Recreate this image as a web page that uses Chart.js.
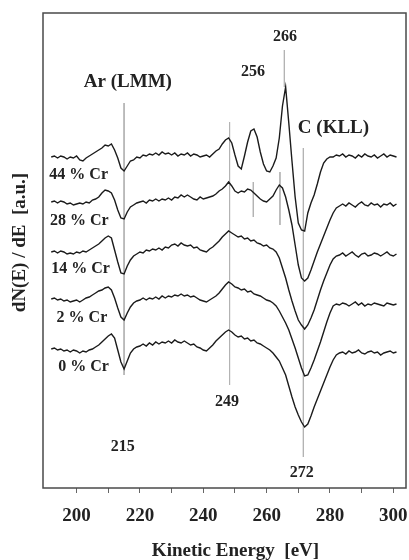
<!DOCTYPE html>
<html>
<head>
<meta charset="utf-8">
<script src="https://cdn.jsdelivr.net/npm/chart.js"></script>
<style>
  html, body { margin: 0; padding: 0; background: #fff; }
  #chart { display: block; }
</style>
</head>
<body>
<canvas id="chart" width="409" height="560"></canvas>
<script>
// Auger spectra dN(E)/dE (a.u., relative to each baseline)
const energy = [
  192, 193, 194, 195, 196, 197, 198, 199, 200, 201,
  202, 203, 204, 205, 206, 207, 208, 209, 210, 211,
  212, 213, 214, 215, 216, 217, 218, 219, 220, 221,
  222, 223, 224, 225, 226, 227, 228, 229, 230, 231,
  232, 233, 234, 235, 236, 237, 238, 239, 240, 241,
  242, 243, 244, 245, 246, 247, 248, 249, 250, 251,
  252, 253, 254, 255, 256, 257, 258, 259, 260, 261,
  262, 263, 264, 265, 266, 267, 268, 269, 270, 271,
  272, 273, 274, 275, 276, 277, 278, 279, 280, 281,
  282, 283, 284, 285, 286, 287, 288, 289, 290, 291,
  292, 293, 294, 295, 296, 297, 298, 299, 300, 301
];

const cr44 = [
  0, 1, -1, 1, 0, -2, 0, -1, 1, -3,
  -4, -1, 1, 3, 5, 7, 9, 12, 11, 13,
  7, -1, -11, -14, -9, -4, -3, 0, -1, 2,
  1, 3, 2, 4, 2, 5, 3, 4, 2, 4,
  1, 3, 2, 4, 1, 3, 2, 0, 1, 2,
  0, 3, 6, 8, 13, 17, 19, 14, 2, -9,
  -12, 1, 15, 26, 28, 20, 5, -7, -14, -15,
  -9, -1, 19, 51, 70, 34, -4, -40, -66, -73,
  -74, -56, -46, -38, -27, -15, -6, -2, 0, 0,
  2, 1, 3, 0, 2, 1, -1, 2, 0, 3,
  1, 0, 2, -1, 1, 3, 0, 2, 1, 0
];

const cr28 = [
  3, 4, 2, 4, 3, 1, 2, 0, 1, 2,
  1, 3, 2, 5, 6, 8, 12, 15, 14, 12,
  5, -5, -13, -14, -7, -2, 0, 2, 3, 4,
  2, 5, 4, 6, 4, 6, 5, 7, 5, 8,
  7, 10, 8, 10, 8, 6, 5, 8, 6, 7,
  8, 9, 11, 14, 16, 19, 23, 19, 14, 12,
  14, 13, 16, 15, 12, 9, 6, 4, 3, 6,
  9, 15, 20, 17, 8, -5, -20, -40, -60, -73,
  -76, -73, -65, -56, -47, -39, -31, -23, -15, -8,
  -3, -1, 1, -1, 2, 0, -2, 1, 3, 0,
  -1, 2, 0, 1, -2, 1, 0, 2, -1, 1
];

const cr14 = [
  3, 4, 2, 4, 3, 1, 2, 1, 3, 2,
  4, 3, 5, 7, 9, 11, 14, 17, 19, 17,
  5, -7, -18, -19, -11, -5, -1, 1, 3, 2,
  5, 4, 6, 5, 7, 5, 8, 7, 10, 11,
  9, 12, 10, 9, 10, 7, 8, 5, 4, 3,
  6, 8, 11, 14, 18, 21, 24, 22, 20, 18,
  19, 16, 17, 14, 15, 12, 11, 9, 10, 7,
  6, 3, -3, -13, -23, -35, -46, -56, -65, -70,
  -74, -70, -63, -55, -45, -35, -26, -18, -10, -4,
  -1, 0, 2, -1, 1, 3, 0, -2, 1, 2,
  -1, 0, 2, 1, -1, 1, 3, 0, -1, 1
];

const cr2 = [
  6, 7, 5, 6, 4, 5, 3, 4, 5, 3,
  5, 7, 8, 10, 12, 14, 15, 17, 18, 15,
  7, -3, -12, -15, -8, -2, 2, 4, 5, 7,
  5, 7, 6, 8, 6, 9, 7, 9, 8, 10,
  9, 11, 9, 10, 8, 9, 7, 5, 4, 3,
  5, 7, 9, 12, 16, 20, 23, 21, 18, 17,
  15, 16, 13, 14, 11, 10, 9, 7, 5, 4,
  2, -1, -6, -12, -18, -25, -34, -43, -53, -63,
  -71, -70, -63, -55, -46, -37, -27, -17, -8, -1,
  1, 0, 2, 1, -1, 1, 3, 0, 2, -1,
  1, 0, 2, 1, 0, -1, 2, 1, 0, 1
];

const cr0 = [
  4, 5, 3, 4, 2, 3, 1, 3, 2, 0,
  2, 1, 3, 4, 6, 8, 11, 14, 17, 19,
  15, 3, -9, -16, -8, 0, 4, 6, 7, 9,
  7, 10, 8, 11, 9, 11, 10, 12, 10, 13,
  11, 10, 12, 10, 8, 9, 6, 5, 3, 2,
  5, 8, 12, 15, 18, 21, 23, 21, 18, 16,
  17, 14, 15, 12, 13, 10, 9, 7, 5, 3,
  0, -4, -8, -15, -22, -33, -44, -54, -62, -69,
  -74, -71, -63, -54, -46, -38, -30, -22, -14, -7,
  -2, 0, 1, -1, 2, 0, 1, 3, 0, -1,
  1, 2, 0, 1, -2, 0, 1, 2, 0, 1
];

const seriesNames = ['44 % Cr', '28 % Cr', '14 % Cr', '2 % Cr', '0 % Cr'];
const offsets = [331, 283, 233, 183, 135];   // vertical stacking of the spectra

// peak marker lines (energy, top, bottom in plot units)
const markerEnergy = [215, 248.3, 255.8, 264.2, 265.6, 271.6];
const markerTop = [385, 366, 306, 316, 438, 340];
const markerBottom = [113, 103, 271, 263, 401, 31];

// text annotations inside the frame
const noteText = ['266', '256', 'Ar (LMM)', 'C (KLL)', '249', '215', '272'];
const noteEnergy = [265.8, 255.7, 216.2, 281.1, 247.5, 214.6, 271.1];
const noteLevel = [451, 416, 406, 360, 86, 41, 15];
const noteBig = [false, false, true, true, false, false, false];

// where the series names sit (left edge)
const nameEnergy = [191.4, 191.6, 192.0, 193.7, 194.2];
const nameLevel = [313, 267, 219, 170, 121];

const spectra = [cr44, cr28, cr14, cr2, cr0];
const serif = '"Liberation Serif", "Times New Roman", serif';

const datasets = [];
markerEnergy.forEach((e, i) => {
  datasets.push({
    data: [{x: e, y: markerTop[i]}, {x: e, y: markerBottom[i]}],
    borderColor: '#b4b4b4',
    borderWidth: 1,
    pointRadius: 0,
    order: 2
  });
});
spectra.forEach((vals, i) => {
  datasets.push({
    label: seriesNames[i],
    data: vals.map((v, j) => ({x: energy[j], y: v + offsets[i]})),
    borderColor: '#1b1b1b',
    borderWidth: 1.4,
    pointRadius: 0,
    tension: 0,
    order: 1
  });
});

const textPlugin = {
  id: 'spectrumText',
  afterDatasetsDraw(chart) {
    const {ctx, chartArea: a, scales: {x, y}} = chart;
    ctx.save();
    // frame
    ctx.strokeStyle = '#4a4a4a';
    ctx.lineWidth = 1.5;
    ctx.strokeRect(a.left, a.top, a.right - a.left, a.bottom - a.top);

    ctx.fillStyle = '#222';
    ctx.textBaseline = 'middle';
    ctx.textAlign = 'center';
    noteText.forEach((t, i) => {
      ctx.font = 'bold ' + (noteBig[i] ? 19 : 16) + 'px ' + serif;
      ctx.fillText(t, x.getPixelForValue(noteEnergy[i]), y.getPixelForValue(noteLevel[i]));
    });

    ctx.textAlign = 'left';
    ctx.font = 'bold 16px ' + serif;
    seriesNames.forEach((t, i) => {
      ctx.fillText(t, x.getPixelForValue(nameEnergy[i]), y.getPixelForValue(nameLevel[i]));
    });

    // axis titles
    ctx.font = 'bold 19px ' + serif;
    ctx.textAlign = 'center';
    ctx.fillText('Kinetic Energy  [eV]', (a.left + a.right) / 2 + 11, chart.height - 9);
    ctx.translate(a.left - 23, (a.top + a.bottom) / 2 - 8);
    ctx.rotate(-Math.PI / 2);
    ctx.fillText('dN(E) / dE  [a.u.]', 0, 0);
    ctx.restore();
  }
};

new Chart(document.getElementById('chart'), {
  type: 'line',
  data: { datasets },
  options: {
    responsive: false,
    animation: false,
    layout: { padding: { left: 43, right: 3, top: 13, bottom: 0 } },
    plugins: { legend: { display: false }, tooltip: { enabled: false } },
    scales: {
      x: {
        type: 'linear',
        min: 189.4,
        max: 304,
        border: { display: false },
        grid: { drawOnChartArea: false, drawTicks: true, tickLength: 5, color: '#666' },
        ticks: {
          stepSize: 10,
          autoSkip: false,
          maxRotation: 0,
          padding: 12,
          color: '#222',
          font: { family: serif, size: 19, weight: 'bold' },
          callback: v => (Math.round(v) % 20 === 0 ? String(Math.round(v)) : '')
        },
        afterBuildTicks: s => {
          s.ticks = s.ticks
            .map(t => ({value: Math.round(t.value)}))
            .filter(t => t.value >= 200 && t.value <= 300);
          if (!s.ticks.some(t => t.value === 300)) s.ticks.push({value: 300});
        },
        afterFit: s => { s.height = 72; s.paddingLeft = 0; s.paddingRight = 0; }
      },
      y: { display: false, min: 0, max: 475 }
    }
  },
  plugins: [textPlugin]
});
</script>
</body>
</html>
